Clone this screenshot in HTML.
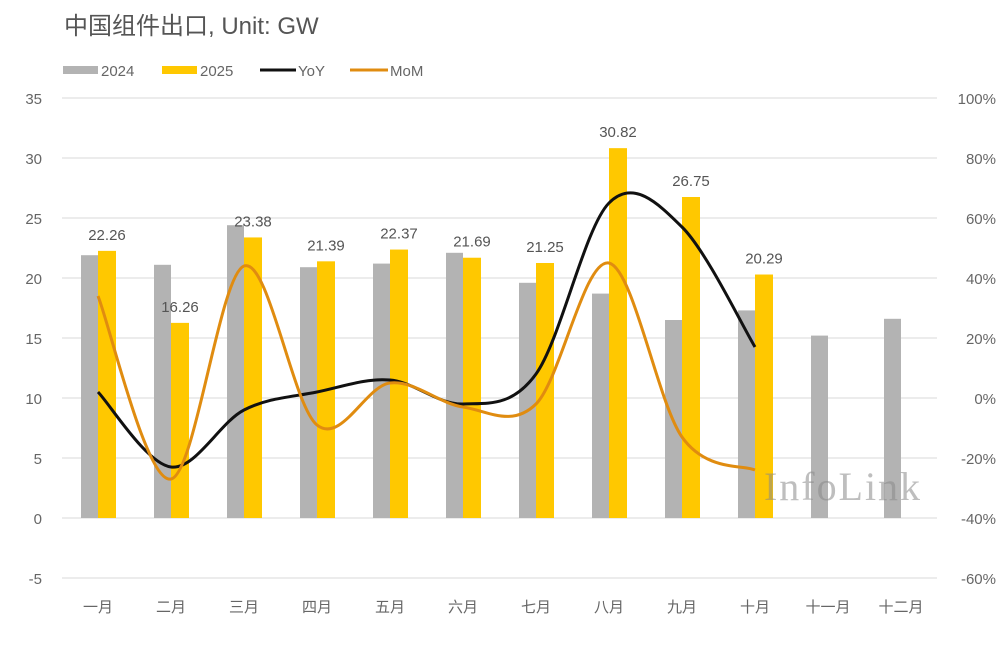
<!DOCTYPE html>
<html><head><meta charset="utf-8"><style>
html,body{margin:0;padding:0;background:#fff;}
svg text{font-family:"Liberation Sans","Noto Sans CJK SC",sans-serif;}
</style></head><body>
<svg id="chart" width="1000" height="662" viewBox="0 0 1000 662" xmlns="http://www.w3.org/2000/svg">
<rect width="1000" height="662" fill="#fff"/>
<text x="64" y="34" font-size="24" fill="#555">中国组件出口, Unit: GW</text>
<g>
 <g><rect x="63" y="66" width="35" height="8" fill="#b3b3b3"/><text x="101" y="76" font-size="15" fill="#666">2024</text></g>
 <g><rect x="162" y="66" width="35" height="8" fill="#ffc800"/><text x="200" y="76" font-size="15" fill="#666">2025</text></g>
 <g><line x1="260" y1="70" x2="296" y2="70" stroke="#111" stroke-width="3"/><text x="298" y="76" font-size="15" fill="#666">YoY</text></g>
 <g><line x1="350" y1="70" x2="388" y2="70" stroke="#e08c10" stroke-width="3"/><text x="390" y="76" font-size="15" fill="#666">MoM</text></g>
</g>
<g id="grid"></g><g id="bars"></g><g id="lines"></g><g id="labels"></g>
<text x="764" y="500" font-size="40" fill="#888" fill-opacity="0.55" style="font-family:'Liberation Serif',serif" textLength="156">InfoLink</text>
</svg>
<script>
const categories=["一月","二月","三月","四月","五月","六月","七月","八月","九月","十月","十一月","十二月"];
const values2024=[21.9,21.1,24.4,20.9,21.2,22.1,19.6,18.7,16.5,17.3,15.2,16.6];
const values2025=[22.26,16.26,23.38,21.39,22.37,21.69,21.25,30.82,26.75,20.29];
const yoy=[2,-23,-4,2,6,-2,8,65,57,17];
const mom=[34,-27,44,-9,5,-3,-2,45,-13,-24];
const leftTicks=[-5,0,5,10,15,20,25,30,35];
const rightTicks=[-60,-40,-20,0,20,40,60,80,100];
const NS="http://www.w3.org/2000/svg";
const x=i=>98+i*73;
const yL=v=>518-v*12;
const yR=v=>398-v*3;
function mk(t,a,p){const e=document.createElementNS(NS,t);for(const k in a)e.setAttribute(k,a[k]);document.getElementById(p).appendChild(e);return e;}
leftTicks.forEach(v=>{
 const g=mk("line",{x1:62,x2:937,y1:yL(v),y2:yL(v),stroke:"#d9d9d9","stroke-width":1},"grid");
 
 
 const t=mk("text",{x:42,y:yL(v)+6,"font-size":15,fill:"#666","text-anchor":"end"},"grid");t.textContent=v;
 
 
});
rightTicks.forEach(v=>{
 const t=mk("text",{x:996,y:yR(v)+6,"font-size":15,fill:"#666","text-anchor":"end"},"grid");t.textContent=v+"%";
 
 
});
categories.forEach((c,i)=>{
 const t=mk("text",{x:x(i),y:612,"font-size":15,fill:"#666","text-anchor":"middle"},"grid");t.textContent=c;
 
 
});
values2024.forEach((v,i)=>{
 const r=mk("rect",{x:x(i)-17,y:yL(v),width:17,height:yL(0)-yL(v),fill:"#b3b3b3"},"bars");
 
 
});
values2025.forEach((v,i)=>{
 const r=mk("rect",{x:x(i),y:yL(v),width:18,height:yL(0)-yL(v),fill:"#ffc800"},"bars");
 
 
 const t=mk("text",{x:x(i)+9,y:yL(v)-11,"font-size":15,fill:"#555","text-anchor":"middle"},"labels");t.textContent=v.toFixed(2);
 
 
});
function smooth(pts){let d="M"+pts[0][0]+","+pts[0][1];
 for(let i=0;i<pts.length-1;i++){const p0=pts[i-1]||pts[i],p1=pts[i],p2=pts[i+1],p3=pts[i+2]||p2;
  const c1=[p1[0]+(p2[0]-p0[0])/6,p1[1]+(p2[1]-p0[1])/6],c2=[p2[0]-(p3[0]-p1[0])/6,p2[1]-(p3[1]-p1[1])/6];
  d+=" C"+c1+" "+c2+" "+p2;}return d;}
const yl=mk("path",{d:smooth(yoy.map((v,i)=>[x(i),yR(v)])),fill:"none",stroke:"#111","stroke-width":3},"lines");


const ml=mk("path",{d:smooth(mom.map((v,i)=>[x(i),yR(v)])),fill:"none",stroke:"#e08c10","stroke-width":3},"lines");


</script>
</body></html>
